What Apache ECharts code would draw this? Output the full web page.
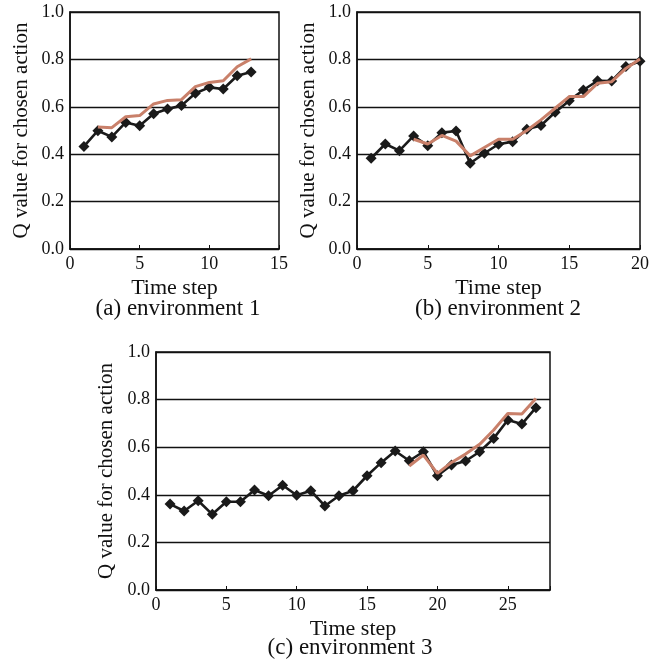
<!DOCTYPE html>
<html>
<head>
<meta charset="UTF-8">
<title>Q value for chosen action</title>
<script type="text/javascript" src="https://cdn.jsdelivr.net/npm/echarts@6/dist/echarts.min.js"></script>
</head>
<body style="margin:0;background:#fff">
<div id="main" style="width:665px;height:668px;"></div>
<script type="text/javascript">
// environment 1
var stepsA = [1, 2, 3, 4, 5, 6, 7, 8, 9, 10, 11, 12, 13];
var chosenA = [0.433, 0.499, 0.473, 0.534, 0.520, 0.571, 0.591, 0.605, 0.657, 0.682, 0.675, 0.731, 0.747];
var refA = [null, 0.515, 0.512, 0.558, 0.563, 0.612, 0.627, 0.630, 0.685, 0.703, 0.710, 0.769, 0.802];

// environment 2
var stepsB = [1, 2, 3, 4, 5, 6, 7, 8, 9, 10, 11, 12, 13, 14, 15, 16, 17, 18, 19, 20];
var chosenB = [0.383, 0.443, 0.415, 0.477, 0.436, 0.491, 0.498, 0.362, 0.404, 0.442, 0.453, 0.505, 0.521, 0.577, 0.626, 0.671, 0.710, 0.709, 0.770, 0.792];
var refB = [null, null, null, 0.463, 0.443, 0.479, 0.455, 0.393, 0.428, 0.463, 0.463, 0.500, 0.545, 0.594, 0.643, 0.643, 0.699, 0.706, 0.762, 0.802];

// environment 3
var stepsC = [1, 2, 3, 4, 5, 6, 7, 8, 9, 10, 11, 12, 13, 14, 15, 16, 17, 18, 19, 20, 21, 22, 23, 24, 25, 26, 27];
var chosenC = [0.361, 0.332, 0.375, 0.318, 0.371, 0.371, 0.420, 0.396, 0.440, 0.398, 0.417, 0.353, 0.396, 0.417, 0.480, 0.535, 0.584,
               0.543, 0.581, 0.480, 0.525, 0.542, 0.581, 0.637, 0.714, 0.697, 0.766];
var refC = [null, null, null, null, null, null, null, null, null, null, null, null, null, null, null, null, null,
            0.521, 0.567, 0.490, 0.536, 0.571, 0.612, 0.672, 0.742, 0.739, 0.805];

var yTicks = [0, 0.2, 0.4, 0.6, 0.8, 1.0];
var captions = ['(a) environment 1', '(b) environment 2', '(c) environment 3'];

var FONT = '"Liberation Serif", "Times New Roman", serif';

function pairs(xs, ys) {
    var out = [];
    for (var i = 0; i < xs.length; i++) {
        if (ys[i] != null) out.push([xs[i], ys[i]]);
    }
    return out;
}

function xAxisFor(idx, max) {
    return {
        type: 'value', gridIndex: idx, min: 0, max: max, interval: 5,
        name: 'Time step', nameLocation: 'middle', nameGap: 28,
        nameTextStyle: { fontFamily: FONT, fontSize: 22, color: '#111' },
        axisLine: { lineStyle: { color: '#111', width: 1.5 } },
        axisTick: { inside: true, length: 4, lineStyle: { color: '#111' } },
        axisLabel: {
            fontFamily: FONT, fontSize: 18, color: '#111', margin: 6,
            formatter: function (v) { return v % 5 === 0 ? String(v) : ''; }
        },
        splitLine: { show: false }
    };
}

function yAxisFor(idx) {
    return {
        type: 'value', gridIndex: idx, min: yTicks[0], max: yTicks[yTicks.length - 1], interval: 0.2,
        name: 'Q value for chosen action', nameLocation: 'middle', nameGap: 38,
        nameTextStyle: { fontFamily: FONT, fontSize: 21, color: '#111' },
        axisLine: { show: true, lineStyle: { color: '#111', width: 1.5 } },
        axisTick: { show: false },
        axisLabel: {
            fontFamily: FONT, fontSize: 18, color: '#111', margin: 6,
            formatter: function (v) { return v.toFixed(1); }
        },
        splitLine: { show: true, lineStyle: { color: '#111', width: 1.3 } }
    };
}

function chosenSeries(idx, xs, ys) {
    return {
        type: 'line', xAxisIndex: idx, yAxisIndex: idx, data: pairs(xs, ys),
        symbol: 'diamond', symbolSize: 11, z: 3,
        lineStyle: { color: '#1a1a1a', width: 2.6 },
        itemStyle: { color: '#1a1a1a' }
    };
}

function refSeries(idx, xs, ys) {
    return {
        type: 'line', xAxisIndex: idx, yAxisIndex: idx, data: pairs(xs, ys),
        showSymbol: false, symbol: 'none', z: 4,
        lineStyle: { color: '#c9806a', width: 3 }
    };
}

var myChart = echarts.init(document.getElementById('main'));

var option = {
    backgroundColor: '#fff',
    animation: false,
    grid: [
        { left: 70, top: 12, width: 209, height: 237, show: true, borderColor: '#111', borderWidth: 1.5 },
        { left: 357, top: 12, width: 283, height: 237, show: true, borderColor: '#111', borderWidth: 1.5 },
        { left: 156, top: 352, width: 394, height: 238, show: true, borderColor: '#111', borderWidth: 1.5 }
    ],
    xAxis: [xAxisFor(0, 15), xAxisFor(1, 20), xAxisFor(2, 28)],
    yAxis: [yAxisFor(0), yAxisFor(1), yAxisFor(2)],
    series: [
        chosenSeries(0, stepsA, chosenA), refSeries(0, stepsA, refA),
        chosenSeries(1, stepsB, chosenB), refSeries(1, stepsB, refB),
        chosenSeries(2, stepsC, chosenC), refSeries(2, stepsC, refC)
    ],
    graphic: [
        { type: 'text', x: 178, y: 309, style: { text: captions[0], font: '23px ' + FONT, fill: '#111', textAlign: 'center', textVerticalAlign: 'middle' } },
        { type: 'text', x: 498, y: 309, style: { text: captions[1], font: '23px ' + FONT, fill: '#111', textAlign: 'center', textVerticalAlign: 'middle' } },
        { type: 'text', x: 350, y: 648, style: { text: captions[2], font: '23px ' + FONT, fill: '#111', textAlign: 'center', textVerticalAlign: 'middle' } }
    ]
};
myChart.setOption(option);
</script>
</body>
</html>
